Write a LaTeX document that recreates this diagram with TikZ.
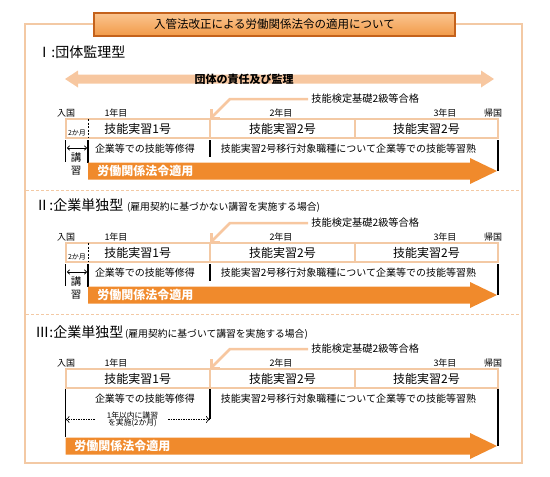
\documentclass[tikz,border=0pt]{standalone}
\usepackage{fontspec}
\setmainfont{Noto Sans CJK JP}
\usepackage{tikz}
\usetikzlibrary{positioning,arrows.meta}

\definecolor{peach}{HTML}{F3C9A4}
\definecolor{lightpeach}{HTML}{F7C7A0}
\definecolor{laworange}{HTML}{F08A2C}
\definecolor{titletop}{HTML}{FAC590}
\definecolor{titlebot}{HTML}{F29A48}
\definecolor{titleedge}{HTML}{C4621C}
\newcommand{\jfs}[1]{\fontsize{#1}{#1}\selectfont}

\begin{document}
\begin{tikzpicture}[x=1pt, y=-1pt, thick,
    outerframe/.style={draw=peach, line width=2pt},
    headline/.style={top color=titletop, bottom color=titlebot, draw=titleedge, line width=1.2pt,
      minimum width=361pt, minimum height=23pt, inner sep=0pt, font=\jfs{11.5}},
    kind/.style={anchor=west, inner sep=0pt, font=\jfs{14}},
    kindnote/.style={anchor=base west, inner sep=0pt, font=\jfs{9.8}},
    duty/.style={fill=lightpeach},
    dutytext/.style={inner sep=0pt, font=\bfseries\jfs{11}},
    pass/.style={anchor=west, inner sep=0pt, font=\jfs{10.2}},
    lead/.style={draw=lightpeach, line width=2.5pt, -{Straight Barb[length=6pt,width=12pt]}},
    year/.style={inner sep=0pt, font=\jfs{9}},
    stage/.style={draw=peach, line width=2pt, minimum height=19pt, inner sep=0pt, outer sep=0pt, font=\jfs{12}},
    task/.style={inner sep=0pt, font=\jfs{10}},
    blackrule/.style={draw=black, line width=1.1pt},
    cutline/.style={draw=black, line width=0.8pt, dash pattern=on 2pt off 1.5pt},
    spanarrow/.style={draw=black, line width=0.7pt, {To[length=3pt,width=5pt]}-{To[length=3pt,width=5pt]}},
    tinytext/.style={inner sep=0pt, font=\jfs{7}},
    kanji/.style={inner sep=0pt, font=\jfs{10.5}},
    plantext/.style={inner sep=0pt, align=center, font=\jfs{7.8}},
    dasharrow/.style={draw=black, line width=0.6pt, dash pattern=on 1.5pt off 1pt, -{To[length=4pt,width=7pt]}},
    lawarrow/.style={fill=laworange},
    lawtext/.style={anchor=west, inner sep=0pt, text=white, font=\bfseries\jfs{12}},
    sepline/.style={draw=peach, line width=1pt, dash pattern=on 3pt off 2pt}]

\useasboundingbox (0,0) rectangle (550,477);

\draw[outerframe] (25,24) rectangle (522,463);
\node[headline] (title) at (274.5,24.5) {入管法改正による労働関係法令の適用について};

\draw[sepline] (26,190) -- (521,190);
\draw[sepline] (26,314) -- (521,314);

% headings
\node[kind] (kindA) at (37,52) {Ⅰ:団体監理型};
\node[kind] (kindB) at (35,205) {Ⅱ:企業単独型};
\node[kindnote] (noteB) at ([xshift=3pt]kindB.base east) {(雇用契約に基づかない講習を実施する場合)};
\node[kind] (kindC) at (35,332) {Ⅲ:企業単独型};
\node[kindnote] (noteC) at ([xshift=1pt]kindC.base east) {(雇用契約に基づいて講習を実施する場合)};

% duty of the body
\fill[duty] (65,79) -- (78,70.5) -- (78,74.5) -- (481,74.5) -- (481,70.5) -- (494,79)
  -- (481,87.5) -- (481,83.5) -- (78,83.5) -- (78,87.5) -- cycle;
\node[dutytext] (dutyA) at (244,79) {団体の責任及び監理};

% time lines
\foreach \s/\dy in {A/0pt, B/124pt, C/250pt} {
  \begin{scope}[yshift=-\dy, name prefix=\s-]
    \node[pass] (pass) at (311,99) {技能検定基礎2級等合格};
    \coordinate (bend) at (230,99);
    \node[year] (in) at (66,113) {入国};
    \node[year] (y1) at (116,113) {1年目};
    \node[year] (y2) at (281,113) {2年目};
    \node[year] (y3) at (445,113) {3年目};
    \node[year] (out) at (493,113) {帰国};
    \node[stage, minimum width=144.5pt] (st1) at (137.75,128.5) {技能実習1号};
    \node[stage, minimum width=145pt, right=0pt of st1] (st2) {技能実習2号};
    \node[stage, minimum width=143pt, right=0pt of st2] (st3) {技能実習2号};
    \draw[lead] ([xshift=-3pt]pass.west) -- (bend) -- (st2.north west);
    \node[task] (t1) at (145,149) {企業等での技能等修得};
    \node[task] (t2) at (348.5,149) {技能実習2号移行対象職種について企業等での技能等習熟};
  \end{scope}
}

% two months of training first
\foreach \s/\dy in {A/0pt, B/124pt} {
  \begin{scope}[yshift=-\dy, name prefix=\s-]
    \coordinate (cut) at (88,119);
    \node[tinytext] (two) at (77,133) {2か月};
    \draw[cutline] (cut) -- (cut |- st1.south);
    \draw[blackrule] ([yshift=-2pt]st1.south west) -- ++(0,22);
    \draw[blackrule] ([yshift=-2pt]st1.south -| cut) -- ++(0,23);
    \draw[blackrule] ([yshift=-2pt]st2.south west) -- ++(0,17);
    \draw[blackrule] ([yshift=-2pt]st3.south east) -- ++(0,31);
    \coordinate (spanL) at (67,148);
    \coordinate (spanR) at (87,148);
    \draw[spanarrow] (spanL) -- (spanR);
    \node[kanji] (ko) at (76,158) {講};
    \node[kanji] (shu) at (76,171) {習};
    \fill[lawarrow] (88,162.5) -- (470,162.5) -- (470,158) -- (497,171) -- (470,184)
      -- (470,179.5) -- (88,179.5) -- cycle;
    \node[lawtext] (law) at (97,171) {労働関係法令適用};
  \end{scope}
}

% training within the first year
\begin{scope}[yshift=-250pt, name prefix=C-]
  \draw[blackrule] ([yshift=-1pt]st1.south west) -- ++(0,48);
  \draw[blackrule] ([yshift=-1pt]st2.south west) -- ++(0,30);
  \draw[blackrule] ([yshift=-1pt]st3.south east) -- ++(0,57);
  \node[plantext] (plan) at (132.5,169.5) {1年以内に講習\\を実施(2か月)};
  \draw[dasharrow] ([xshift=-12pt]plan.west) -- (plan.west -| st1.south west);
  \draw[dasharrow] ([xshift=10pt]plan.east) -- (plan.east -| st2.south west);
  \fill[lawarrow] (65.5,187.5) -- (470,187.5) -- (470,183) -- (497,196) -- (470,209)
    -- (470,204.5) -- (65.5,204.5) -- cycle;
  \node[lawtext] (law) at (74,196) {労働関係法令適用};
\end{scope}
\end{tikzpicture}
\end{document}
